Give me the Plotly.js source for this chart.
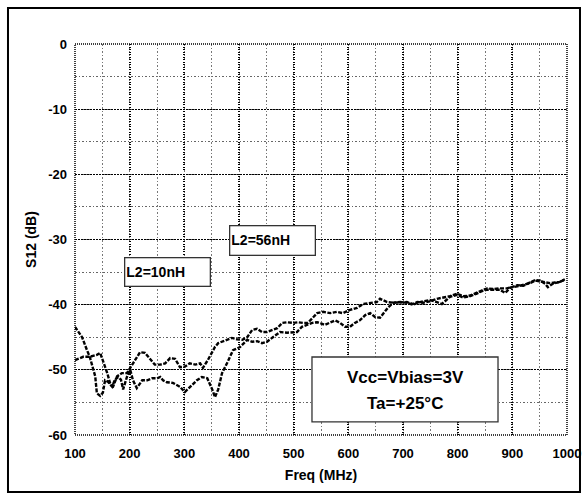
<!DOCTYPE html>
<html>
<head>
<meta charset="utf-8">
<script src="https://cdn.plot.ly/plotly-3.0.1.min.js"></script>
<style>html,body{margin:0;padding:0;background:#fff;}#chart{width:588px;height:500px;}</style>
</head>
<body>
<div id="chart"></div>
<script>
// Curve 1 (L2 = 10nH)
const freqA = [100,113,122,127,137,140,146,151,155,160,168,173,179,184,188,192,195,201,206,213,223,232,241,250,256,261,268,279,287,292,301,310,323,332,342,351,356,362,369,378,389,402,415,424,433,442,451,462,475,488,499,506,515,524,534,543,548,557,567,576,585,594,603,612,621,631,640,649,658,667,673,682,695,707,718,731,749,762,771,786,799,810,823,835,845,854,865,877,887,896,909,920,932,942,951,960,969,978,987,996];
const s12A  = [-43.4,-45,-47,-48,-51,-53.6,-54,-53.5,-51.6,-51.8,-52.6,-51.5,-51.1,-51.5,-53,-52,-51.1,-50,-51.6,-52.8,-51.6,-51.6,-51.3,-51.3,-51.1,-51.6,-51.9,-52,-52.3,-52.6,-53.4,-52.6,-51.6,-51.1,-51.3,-53,-54.2,-53,-50.5,-49,-47,-46.5,-45.4,-45.7,-45.6,-45.9,-45.7,-45,-44.2,-44.3,-44.3,-44.2,-43.4,-43.1,-42.8,-42.7,-42.8,-43.1,-42.7,-42.4,-42.8,-43.4,-43.4,-42.8,-42.4,-41.6,-41.3,-41.9,-42,-41.1,-40.4,-39.7,-39.6,-39.7,-40,-39.6,-39.3,-39.6,-39.9,-38.8,-38.5,-38.9,-38.7,-38.3,-37.9,-37.7,-37.7,-37.7,-38.2,-37.4,-37.2,-37,-36.7,-36.3,-36.4,-36.6,-36.7,-36.6,-36.5,-36.1];
// Curve 2 (L2 = 56nH)
const freqB = [100,115,127,140,146,151,159,164,170,177,186,195,201,210,219,228,237,246,256,265,274,283,292,301,310,320,329,334,343,351,356,362,369,378,387,396,406,415,424,433,442,451,460,470,479,488,499,508,517,526,535,543,554,567,579,590,603,616,627,640,652,658,671,682,695,707,718,726,737,749,762,773,786,799,810,823,835,845,854,865,877,890,899,909,920,932,942,951,960,965,974,987,996];
const s12B  = [-48.5,-48,-48,-47.7,-47.4,-48.5,-50.5,-52,-52.5,-51,-50.5,-50.5,-49.7,-48.5,-47.3,-47.4,-48.3,-49.2,-49.2,-49,-48.2,-48.3,-49.6,-49.5,-49,-49.2,-49,-49.7,-48.5,-47.4,-46.5,-45.9,-45.7,-45.4,-45.1,-45.3,-45.4,-45,-43.9,-43.7,-44.2,-44.2,-43.9,-43.6,-42.8,-42.7,-42.8,-42.7,-42.8,-42.8,-42,-41.3,-41.1,-41.3,-41.1,-41.3,-40.8,-40.5,-39.9,-39.7,-39.6,-39.1,-39.6,-39.7,-39.7,-39.6,-39.9,-39.6,-39.7,-39.5,-39.1,-38.9,-38.7,-38.3,-38.7,-38.6,-38.1,-37.8,-37.5,-37.6,-37.5,-37.5,-37.3,-37,-37.1,-36.6,-36.2,-36.3,-36.8,-37.3,-36.8,-36.5,-36.2];

const xTicks = [100,200,300,400,500,600,700,800,900,1000];
const yTicks = [0,-10,-20,-30,-40,-50,-60];

const F = 'Liberation Sans, Arial, sans-serif';
const lineStyle = {color:'#000', width:2.4, dash:'4px,1.5px'};

const traces = [
  {x:freqA, y:s12A, type:'scatter', mode:'lines', name:'L2=10nH', line:lineStyle, hoverinfo:'skip'},
  {x:freqB, y:s12B, type:'scatter', mode:'lines', name:'L2=56nH', line:lineStyle, hoverinfo:'skip'}
];

const layout = {
  width:588, height:500,
  margin:{l:75, r:21, t:44, b:65},
  paper_bgcolor:'#fff', plot_bgcolor:'#fff',
  showlegend:false,
  xaxis:{
    range:[100,1000], tickmode:'array', tickvals:xTicks, ticktext:xTicks.map(String),
    showgrid:true, gridcolor:'#000', gridwidth:2, griddash:'1px,1.5px',
    minor:{dtick:50, tick0:100, showgrid:true, gridcolor:'#777', gridwidth:1, griddash:'1.5px,2px'},
    zeroline:false, showline:false, ticks:'', ticklabelstandoff:9,
    tickfont:{family:F, size:13, weight:'bold', color:'#000'},
    title:{text:'Freq (MHz)', font:{family:F, size:14, weight:'bold', color:'#000'}, standoff:10}
  },
  yaxis:{
    range:[-60,0], tickmode:'array', tickvals:yTicks, ticktext:yTicks.map(String),
    showgrid:true, gridcolor:'#000', gridwidth:1, griddash:'2px,1px',
    minor:{dtick:5, tick0:0, showgrid:true, gridcolor:'#666', gridwidth:1, griddash:'1.5px,2px'},
    zeroline:false, showline:false, ticks:'', ticklabelstandoff:7,
    tickfont:{family:F, size:13, weight:'bold', color:'#000'},
    title:{text:'S12 (dB)', font:{family:F, size:14, weight:'bold', color:'#000'}, standoff:8}
  },
  shapes:[
    {type:'rect', xref:'paper', yref:'paper', x0:0, x1:1, y0:0, y1:1, line:{color:'#000', width:1.5, dash:'1px,1px'}, fillcolor:'rgba(0,0,0,0)', layer:'above'},
    {type:'rect', xref:'paper', yref:'paper', x0:-0.1362, x1:1.0264, y0:-0.1458, y1:1.0921, line:{color:'#000', width:2}, fillcolor:'rgba(0,0,0,0)', layer:'above'},
    {type:'rect', xref:'x', yref:'y', x0:533.5, x1:873.8, y0:-58.0, y1:-48.03, line:{color:'#333', width:1.3}, fillcolor:'#fff', layer:'above'}
  ],
  annotations:[
    {x:460.4, y:-30.08, xref:'x', yref:'y', text:'L2=56nH', showarrow:false, align:'left', width:82, height:26, borderpad:1, borderwidth:1.3, bordercolor:'#333', bgcolor:'#fff', font:{family:F, size:14, weight:'bold', color:'#000'}, xanchor:'center', yanchor:'middle'},
    {x:270.1, y:-35.06, xref:'x', yref:'y', text:'L2=10nH', showarrow:false, align:'left', width:82, height:25, borderpad:1, borderwidth:1.3, bordercolor:'#333', bgcolor:'#fff', font:{family:F, size:14, weight:'bold', color:'#000'}, xanchor:'center', yanchor:'middle'},
    {x:703.7, y:-51.1, xref:'x', yref:'y', text:'Vcc=Vbias=3V', showarrow:false, font:{family:F, size:17, weight:'bold', color:'#000'}, xanchor:'center', yanchor:'middle'},
    {x:703.7, y:-55.24, xref:'x', yref:'y', text:'Ta=+25°C', showarrow:false, font:{family:F, size:17, weight:'bold', color:'#000'}, xanchor:'center', yanchor:'middle'}
  ]
};

Plotly.newPlot('chart', traces, layout, {staticPlot:true, displayModeBar:false});
</script>
</body>
</html>
